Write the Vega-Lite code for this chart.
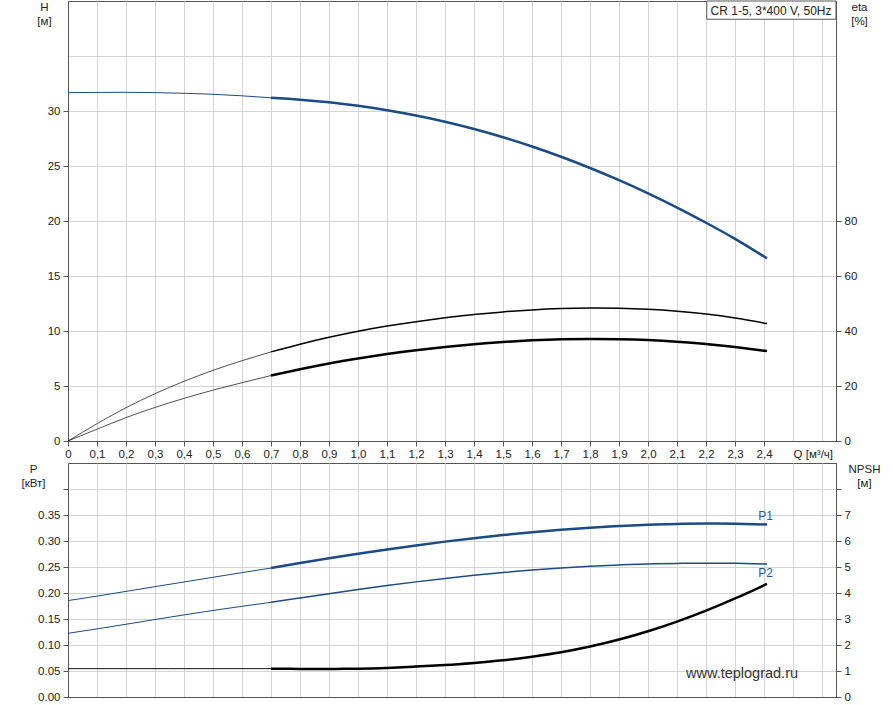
{
  "$schema": "https://vega.github.io/schema/vega-lite/v6.json",
  "autosize": {"type": "pad"},
  "padding": {"left": 20, "top": 0, "right": 5, "bottom": 0},
  "background": "white",
  "config": {
    "font": "Liberation Sans",
    "view": {"stroke": "#555555", "strokeWidth": 1},
    "axis": {
      "labelFont": "Liberation Sans", "labelFontSize": 11.5, "labelColor": "#222222",
      "titleFont": "Liberation Sans", "titleFontSize": 11.5, "titleFontWeight": "normal", "titleColor": "#222222",
      "domainColor": "#555555", "tickColor": "#555555", "gridColor": "#d4d4d4", "tickSize": 5, "labelPadding": 3
    }
  },
  "datasets": {
    "curves": [
      {"s":"H","z":"e","q":0,"v":31.67},{"s":"H","z":"e","q":0.1,"v":31.69},{"s":"H","z":"e","q":0.2,"v":31.7},{"s":"H","z":"e","q":0.3,"v":31.67},{"s":"H","z":"e","q":0.4,"v":31.61},{"s":"H","z":"e","q":0.5,"v":31.52},{"s":"H","z":"e","q":0.6,"v":31.38},{"s":"H","z":"e","q":0.7,"v":31.2},
      {"s":"H","z":"o","q":0.7,"v":31.2},{"s":"H","z":"o","q":0.8,"v":31.03},{"s":"H","z":"o","q":0.9,"v":30.79},{"s":"H","z":"o","q":1.0,"v":30.47},{"s":"H","z":"o","q":1.1,"v":30.07},{"s":"H","z":"o","q":1.2,"v":29.59},{"s":"H","z":"o","q":1.3,"v":29.02},{"s":"H","z":"o","q":1.4,"v":28.36},{"s":"H","z":"o","q":1.5,"v":27.61},{"s":"H","z":"o","q":1.6,"v":26.77},{"s":"H","z":"o","q":1.7,"v":25.84},{"s":"H","z":"o","q":1.8,"v":24.82},{"s":"H","z":"o","q":1.9,"v":23.71},{"s":"H","z":"o","q":2.0,"v":22.51},{"s":"H","z":"o","q":2.1,"v":21.22},{"s":"H","z":"o","q":2.2,"v":19.84},{"s":"H","z":"o","q":2.3,"v":18.37},{"s":"H","z":"o","q":2.41,"v":16.6},
      {"s":"E1","z":"e","q":0,"v":0},{"s":"E1","z":"e","q":0.1,"v":6.3},{"s":"E1","z":"e","q":0.2,"v":12.1},{"s":"E1","z":"e","q":0.3,"v":17.2},{"s":"E1","z":"e","q":0.4,"v":21.7},{"s":"E1","z":"e","q":0.5,"v":25.7},{"s":"E1","z":"e","q":0.6,"v":29.2},{"s":"E1","z":"e","q":0.7,"v":32.4},
      {"s":"E1","z":"o","q":0.7,"v":32.4},{"s":"E1","z":"o","q":0.8,"v":35.2},{"s":"E1","z":"o","q":0.9,"v":37.7},{"s":"E1","z":"o","q":1.0,"v":39.9},{"s":"E1","z":"o","q":1.1,"v":41.8},{"s":"E1","z":"o","q":1.2,"v":43.4},{"s":"E1","z":"o","q":1.3,"v":44.8},{"s":"E1","z":"o","q":1.4,"v":46.0},{"s":"E1","z":"o","q":1.5,"v":46.95},{"s":"E1","z":"o","q":1.6,"v":47.65},{"s":"E1","z":"o","q":1.7,"v":48.15},{"s":"E1","z":"o","q":1.8,"v":48.4},{"s":"E1","z":"o","q":1.9,"v":48.3},{"s":"E1","z":"o","q":2.0,"v":47.9},{"s":"E1","z":"o","q":2.1,"v":47.2},{"s":"E1","z":"o","q":2.2,"v":46.15},{"s":"E1","z":"o","q":2.3,"v":44.7},{"s":"E1","z":"o","q":2.41,"v":42.7},
      {"s":"E2","z":"e","q":0,"v":0},{"s":"E2","z":"e","q":0.1,"v":4.3},{"s":"E2","z":"e","q":0.2,"v":8.5},{"s":"E2","z":"e","q":0.3,"v":12.2},{"s":"E2","z":"e","q":0.4,"v":15.5},{"s":"E2","z":"e","q":0.5,"v":18.5},{"s":"E2","z":"e","q":0.6,"v":21.2},{"s":"E2","z":"e","q":0.7,"v":23.8},
      {"s":"E2","z":"o","q":0.7,"v":23.8},{"s":"E2","z":"o","q":0.8,"v":26.1},{"s":"E2","z":"o","q":0.9,"v":28.2},{"s":"E2","z":"o","q":1.0,"v":30.0},{"s":"E2","z":"o","q":1.1,"v":31.6},{"s":"E2","z":"o","q":1.2,"v":33.0},{"s":"E2","z":"o","q":1.3,"v":34.2},{"s":"E2","z":"o","q":1.4,"v":35.2},{"s":"E2","z":"o","q":1.5,"v":36.0},{"s":"E2","z":"o","q":1.6,"v":36.6},{"s":"E2","z":"o","q":1.7,"v":37.0},{"s":"E2","z":"o","q":1.8,"v":37.1},{"s":"E2","z":"o","q":1.9,"v":37.0},{"s":"E2","z":"o","q":2.0,"v":36.7},{"s":"E2","z":"o","q":2.1,"v":36.1},{"s":"E2","z":"o","q":2.2,"v":35.25},{"s":"E2","z":"o","q":2.3,"v":34.15},{"s":"E2","z":"o","q":2.41,"v":32.7},
      {"s":"P1","z":"e","q":0,"v":0.1854},{"s":"P1","z":"e","q":0.1,"v":0.194},{"s":"P1","z":"e","q":0.2,"v":0.2031},{"s":"P1","z":"e","q":0.3,"v":0.2122},{"s":"P1","z":"e","q":0.4,"v":0.2212},{"s":"P1","z":"e","q":0.5,"v":0.2302},{"s":"P1","z":"e","q":0.6,"v":0.2392},{"s":"P1","z":"e","q":0.7,"v":0.248},
      {"s":"P1","z":"o","q":0.7,"v":0.248},{"s":"P1","z":"o","q":0.8,"v":0.2576},{"s":"P1","z":"o","q":0.9,"v":0.2669},{"s":"P1","z":"o","q":1.0,"v":0.2756},{"s":"P1","z":"o","q":1.1,"v":0.2838},{"s":"P1","z":"o","q":1.2,"v":0.2915},{"s":"P1","z":"o","q":1.3,"v":0.2988},{"s":"P1","z":"o","q":1.4,"v":0.3054},{"s":"P1","z":"o","q":1.5,"v":0.3114},{"s":"P1","z":"o","q":1.6,"v":0.3168},{"s":"P1","z":"o","q":1.7,"v":0.3215},{"s":"P1","z":"o","q":1.8,"v":0.3255},{"s":"P1","z":"o","q":1.9,"v":0.3287},{"s":"P1","z":"o","q":2.0,"v":0.3312},{"s":"P1","z":"o","q":2.1,"v":0.3329},{"s":"P1","z":"o","q":2.2,"v":0.3337},{"s":"P1","z":"o","q":2.3,"v":0.3334},{"s":"P1","z":"o","q":2.41,"v":0.3318},
      {"s":"P2","z":"e","q":0,"v":0.1225},{"s":"P2","z":"e","q":0.1,"v":0.1310},{"s":"P2","z":"e","q":0.2,"v":0.1399},{"s":"P2","z":"e","q":0.3,"v":0.149},{"s":"P2","z":"e","q":0.4,"v":0.1579},{"s":"P2","z":"e","q":0.5,"v":0.1664},{"s":"P2","z":"e","q":0.6,"v":0.1744},{"s":"P2","z":"e","q":0.7,"v":0.182},
      {"s":"P2","z":"o","q":0.7,"v":0.182},{"s":"P2","z":"o","q":0.8,"v":0.1904},{"s":"P2","z":"o","q":0.9,"v":0.1987},{"s":"P2","z":"o","q":1.0,"v":0.2067},{"s":"P2","z":"o","q":1.1,"v":0.2143},{"s":"P2","z":"o","q":1.2,"v":0.2214},{"s":"P2","z":"o","q":1.3,"v":0.228},{"s":"P2","z":"o","q":1.4,"v":0.234},{"s":"P2","z":"o","q":1.5,"v":0.2394},{"s":"P2","z":"o","q":1.6,"v":0.2441},{"s":"P2","z":"o","q":1.7,"v":0.2481},{"s":"P2","z":"o","q":1.8,"v":0.2514},{"s":"P2","z":"o","q":1.9,"v":0.254},{"s":"P2","z":"o","q":2.0,"v":0.2558},{"s":"P2","z":"o","q":2.1,"v":0.2569},{"s":"P2","z":"o","q":2.2,"v":0.2573},{"s":"P2","z":"o","q":2.3,"v":0.257},{"s":"P2","z":"o","q":2.41,"v":0.2558},
      {"s":"N","z":"e","q":0,"v":1.09},{"s":"N","z":"e","q":0.35,"v":1.09},{"s":"N","z":"e","q":0.7,"v":1.09},
      {"s":"N","z":"o","q":0.7,"v":1.09},{"s":"N","z":"o","q":0.8,"v":1.08},{"s":"N","z":"o","q":0.9,"v":1.08},{"s":"N","z":"o","q":1.0,"v":1.09},{"s":"N","z":"o","q":1.1,"v":1.12},{"s":"N","z":"o","q":1.2,"v":1.17},{"s":"N","z":"o","q":1.3,"v":1.23},{"s":"N","z":"o","q":1.4,"v":1.31},{"s":"N","z":"o","q":1.5,"v":1.41},{"s":"N","z":"o","q":1.6,"v":1.55},{"s":"N","z":"o","q":1.7,"v":1.72},{"s":"N","z":"o","q":1.8,"v":1.94},{"s":"N","z":"o","q":1.9,"v":2.21},{"s":"N","z":"o","q":2.0,"v":2.53},{"s":"N","z":"o","q":2.1,"v":2.9},{"s":"N","z":"o","q":2.2,"v":3.32},{"s":"N","z":"o","q":2.3,"v":3.79},{"s":"N","z":"o","q":2.41,"v":4.35}
    ],
    "legendbox": [{"q":2.2024,"q2":2.648,"v":38.34,"v2":40,"label":"CR 1-5, 3*400 V, 50Hz","qt":2.424,"vt":38.73}],
    "plabels": [{"q":2.405,"v":0.3475,"label":"P1"},{"q":2.405,"v":0.238,"label":"P2"}],
    "mark": [{"q":2.324,"v":0.036,"label":"www.teplograd.ru"}]
  },
  "spacing": 22,
  "bounds": "flush",
  "vconcat": [
    {
      "width": 768,
      "height": 440,
      "data": {"name": "curves"},
      "encoding": {
        "x": {
          "field": "q", "type": "quantitative",
          "scale": {"domain": [0, 2.648], "nice": false, "zero": false},
          "axis": {
            "title": null,
            "values": [0,0.1,0.2,0.3,0.4,0.5,0.6,0.7,0.8,0.9,1.0,1.1,1.2,1.3,1.4,1.5,1.6,1.7,1.8,1.9,2.0,2.1,2.2,2.3,2.4,2.5,2.6],
            "grid": true,
            "labelPadding": 2,
            "labelOverlap": false,
            "labelFlush": false,
            "labelBound": false,
            "labelExpr": "datum.value == 0 ? '0' : (datum.value > 2.55 ? '' : (datum.value > 2.45 ? 'Q [м³/ч]' : replace(format(datum.value, '.1f'), '.', ',')))",
            "labelAlign": {"condition": {"test": "datum.value > 2.45", "value": "left"}, "value": "center"},
            "tickOpacity": {"condition": {"test": "datum.value > 2.45", "value": 0}, "value": 1}
          }
        }
      },
      "layer": [
        {
          "encoding": {
            "y": {
              "field": "v", "type": "quantitative",
              "scale": {"domain": [0, 40], "nice": false, "zero": false},
              "axis": {
                "values": [0,5,10,15,20,25,30,35],
                "grid": true,
                "labelExpr": "datum.value > 32 ? '' : datum.label",
                "tickOpacity": {"condition": {"test": "datum.value > 32", "value": 0}, "value": 1},
                "title": ["H", "[м]"],
                "titleAngle": 0, "titleAlign": "center", "titleBaseline": "top",
                "titleX": -24, "titleY": 0, "titleLineHeight": 14
              }
            }
          },
          "layer": [
            {"transform": [{"filter": "datum.s == 'H' && datum.z == 'e'"}], "mark": {"type": "line", "interpolate": "natural", "color": "#1a4b85", "strokeWidth": 1}},
            {"transform": [{"filter": "datum.s == 'H' && datum.z == 'o'"}], "mark": {"type": "line", "interpolate": "natural", "color": "#1a4b85", "strokeWidth": 2.5}},
            {"data": {"name": "legendbox"}, "mark": {"type": "rect", "fill": "white", "stroke": "#555555", "strokeWidth": 1}, "encoding": {"x2": {"field": "q2"}, "y2": {"field": "v2"}}},
            {"data": {"name": "legendbox"}, "mark": {"type": "text", "fontSize": 12, "color": "#222222", "align": "center", "baseline": "alphabetic"}, "encoding": {"x": {"field": "qt", "type": "quantitative"}, "y": {"field": "vt", "type": "quantitative"}, "text": {"field": "label"}}}
          ]
        },
        {
          "encoding": {
            "y": {
              "field": "v", "type": "quantitative",
              "scale": {"domain": [0, 160], "nice": false, "zero": false},
              "axis": {
                "orient": "right",
                "values": [0,20,40,60,80],
                "grid": false,
                "title": ["eta", "[%]"],
                "titleAngle": 0, "titleAlign": "center", "titleBaseline": "top",
                "titleX": 23, "titleY": 0, "titleLineHeight": 14
              }
            }
          },
          "layer": [
            {"transform": [{"filter": "datum.s == 'E1' && datum.z == 'e'"}], "mark": {"type": "line", "interpolate": "natural", "color": "#222222", "strokeWidth": 0.8}},
            {"transform": [{"filter": "datum.s == 'E1' && datum.z == 'o'"}], "mark": {"type": "line", "interpolate": "natural", "color": "#000000", "strokeWidth": 1.5}},
            {"transform": [{"filter": "datum.s == 'E2' && datum.z == 'e'"}], "mark": {"type": "line", "interpolate": "natural", "color": "#222222", "strokeWidth": 0.8}},
            {"transform": [{"filter": "datum.s == 'E2' && datum.z == 'o'"}], "mark": {"type": "line", "interpolate": "natural", "color": "#000000", "strokeWidth": 2.5}}
          ]
        }
      ],
      "resolve": {"scale": {"y": "independent"}}
    },
    {
      "width": 768,
      "height": 234,
      "data": {"name": "curves"},
      "encoding": {
        "x": {
          "field": "q", "type": "quantitative",
          "scale": {"domain": [0, 2.648], "nice": false, "zero": false},
          "axis": {
            "title": null,
            "values": [0,0.1,0.2,0.3,0.4,0.5,0.6,0.7,0.8,0.9,1.0,1.1,1.2,1.3,1.4,1.5,1.6,1.7,1.8,1.9,2.0,2.1,2.2,2.3,2.4,2.5,2.6],
            "grid": true, "labels": false, "ticks": false
          }
        }
      },
      "layer": [
        {
          "encoding": {
            "y": {
              "field": "v", "type": "quantitative",
              "scale": {"domain": [0, 0.45], "nice": false, "zero": false},
              "axis": {
                "values": [0,0.05,0.1,0.15,0.2,0.25,0.3,0.35,0.4],
                "grid": true,
                "labelExpr": "datum.value > 0.37 ? '' : format(datum.value, '.2f')",
                "title": ["P", "[кВт]"],
                "titleAngle": 0, "titleAlign": "center", "titleBaseline": "top",
                "titleX": -35, "titleY": 0, "titleLineHeight": 14
              }
            }
          },
          "layer": [
            {"transform": [{"filter": "datum.s == 'P1' && datum.z == 'e'"}], "mark": {"type": "line", "interpolate": "natural", "color": "#1a4b85", "strokeWidth": 1}},
            {"transform": [{"filter": "datum.s == 'P1' && datum.z == 'o'"}], "mark": {"type": "line", "interpolate": "natural", "color": "#1a4b85", "strokeWidth": 2.5}},
            {"transform": [{"filter": "datum.s == 'P2' && datum.z == 'e'"}], "mark": {"type": "line", "interpolate": "natural", "color": "#1a4b85", "strokeWidth": 1}},
            {"transform": [{"filter": "datum.s == 'P2' && datum.z == 'o'"}], "mark": {"type": "line", "interpolate": "natural", "color": "#1a4b85", "strokeWidth": 1.5}},
            {"data": {"name": "plabels"}, "mark": {"type": "text", "fontSize": 12, "color": "#2a5a98", "align": "center", "baseline": "middle"}, "encoding": {"text": {"field": "label"}}},
            {"data": {"name": "mark"}, "mark": {"type": "text", "fontSize": 14.5, "color": "#333333", "align": "center", "baseline": "alphabetic"}, "encoding": {"text": {"field": "label"}}}
          ]
        },
        {
          "encoding": {
            "y": {
              "field": "v", "type": "quantitative",
              "scale": {"domain": [0, 9], "nice": false, "zero": false},
              "axis": {
                "orient": "right",
                "values": [0,1,2,3,4,5,6,7,8],
                "grid": false,
                "labelExpr": "datum.value > 7.5 ? '' : datum.label",
                "title": ["NPSH", "[м]"],
                "titleAngle": 0, "titleAlign": "center", "titleBaseline": "top",
                "titleX": 28, "titleY": 0, "titleLineHeight": 14
              }
            }
          },
          "layer": [
            {"transform": [{"filter": "datum.s == 'N' && datum.z == 'e'"}], "mark": {"type": "line", "interpolate": "natural", "color": "#111111", "strokeWidth": 1}},
            {"transform": [{"filter": "datum.s == 'N' && datum.z == 'o'"}], "mark": {"type": "line", "interpolate": "natural", "color": "#000000", "strokeWidth": 2.5}}
          ]
        }
      ],
      "resolve": {"scale": {"y": "independent"}}
    }
  ]
}
